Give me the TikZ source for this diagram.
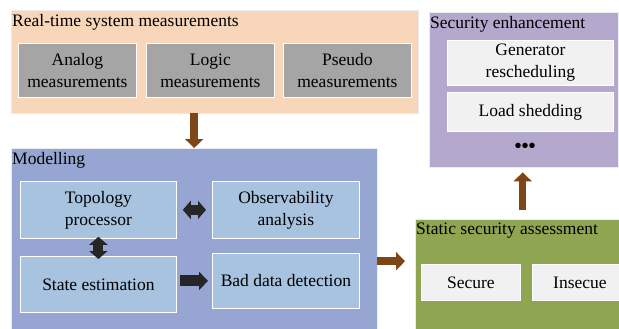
\documentclass[tikz,border=0pt]{standalone}
\usepackage{fontspec}
\setmainfont{Liberation Serif}
\usetikzlibrary{arrows.meta,positioning}
\definecolor{peach}{HTML}{F8D6BA}
\definecolor{grey}{HTML}{A5A5A5}
\definecolor{modblue}{HTML}{96A5D2}
\definecolor{boxblue}{HTML}{A7C3DF}
\definecolor{olive}{HTML}{8FA552}
\definecolor{lilac}{HTML}{B4A8CC}
\definecolor{paper}{HTML}{F1F1F1}
\definecolor{rust}{HTML}{7E4517}
\definecolor{ink}{HTML}{262626}

\begin{document}
\begin{tikzpicture}[x=1pt,y=-1pt,
  panel/.style={draw=white!85!gray, fill=#1, anchor=north west, inner sep=0pt},
  box/.style={draw=white, line width=0.8pt, fill=#1, anchor=north west, align=center,
    inner sep=0pt, font=\fontsize{17.5}{22}\selectfont},
  title/.style={anchor=north west, inner sep=1pt, yshift=-3pt, font=\fontsize{17.5}{22}\selectfont},
  fat/.style={line width=8pt, draw=#1, -{Triangle[length=9pt,width=18pt]}},
  twin/.style={line width=10pt, draw=ink, {Triangle[length=8pt,width=18pt]}-{Triangle[length=8pt,width=18pt]}}]
  \useasboundingbox (0,0) rectangle (619,329);

  % real-time measurements
  \node[panel=peach, minimum width=407pt, minimum height=103pt] (rt) at (11,10) {};
  \node[title] at (rt.north west) {Real-time system measurements};
  \node[box=grey, minimum width=118pt, minimum height=54pt] (an) at (18,43) {Analog\\measurements};
  \node[box=grey, minimum width=128pt, minimum height=54pt] (lg) at (146,43) {Logic\\measurements};
  \node[box=grey, minimum width=128pt, minimum height=54pt] (ps) at (283,43) {Pseudo\\measurements};

  % modelling
  \node[panel=modblue, minimum width=366pt, minimum height=190pt] (mod) at (11,148) {};
  \node[title] at (mod.north west) {Modelling};
  \node[box=boxblue, minimum width=156pt, minimum height=57pt] (tp) at (20,181) {Topology\\processor};
  \node[box=boxblue, minimum width=147pt, minimum height=57pt] (oa) at (212,181) {Observability\\analysis};
  \node[box=boxblue, minimum width=156pt, minimum height=56pt] (se) at (20,256) {State estimation};
  \node[box=boxblue, minimum width=147pt, minimum height=55pt] (bd) at (212,253) {Bad data detection};

  % static security assessment
  \node[panel=olive, minimum width=215pt, minimum height=120pt] (ssa) at (415,219) {};
  \node[title] at (ssa.north west) {Static security assessment};
  \node[box=paper, minimum width=99pt, minimum height=36pt] (sc) at (421,264) {Secure};
  \node[box=paper, minimum width=95pt, minimum height=36pt] (is) at (532,264) {Insecue};

  % security enhancement
  \node[panel=lilac, minimum width=189pt, minimum height=155pt] (sen) at (429,12) {};
  \node[title] at (sen.north west) {Security enhancement};
  \node[box=paper, minimum width=166pt, minimum height=45pt] (gr) at (447,40) {Generator\\rescheduling};
  \node[box=paper, minimum width=166pt, minimum height=39pt] (ls) at (447,92) {Load shedding};
  \node[font=\fontsize{20}{20}\selectfont\bfseries, inner sep=0pt] (dots) at (525,148) {\textbullet\textbullet\textbullet};

  % flow between blocks
  \draw[fat=rust] (mod.north |- rt.south) -- (mod.north);
  \draw[fat=rust, shorten >=10pt] ([yshift=-18pt]mod.east) -- ([yshift=-18pt]mod.east -| ssa.west);
  \draw[fat=rust, line width=7pt, shorten <=9pt, shorten >=5pt] (ssa.north) -- (ssa.north |- sen.south);
  \draw[twin, shorten <=6pt, shorten >=6pt] (tp.east) -- (oa.west);
  \draw[twin, shorten <=-2pt, shorten >=-3pt] (tp.south) -- (tp.south |- se.north);
  \draw[fat=ink, line width=11pt, shorten <=3pt, shorten >=4pt] (se.east |- bd.west) -- (bd.west);
\end{tikzpicture}
\end{document}
